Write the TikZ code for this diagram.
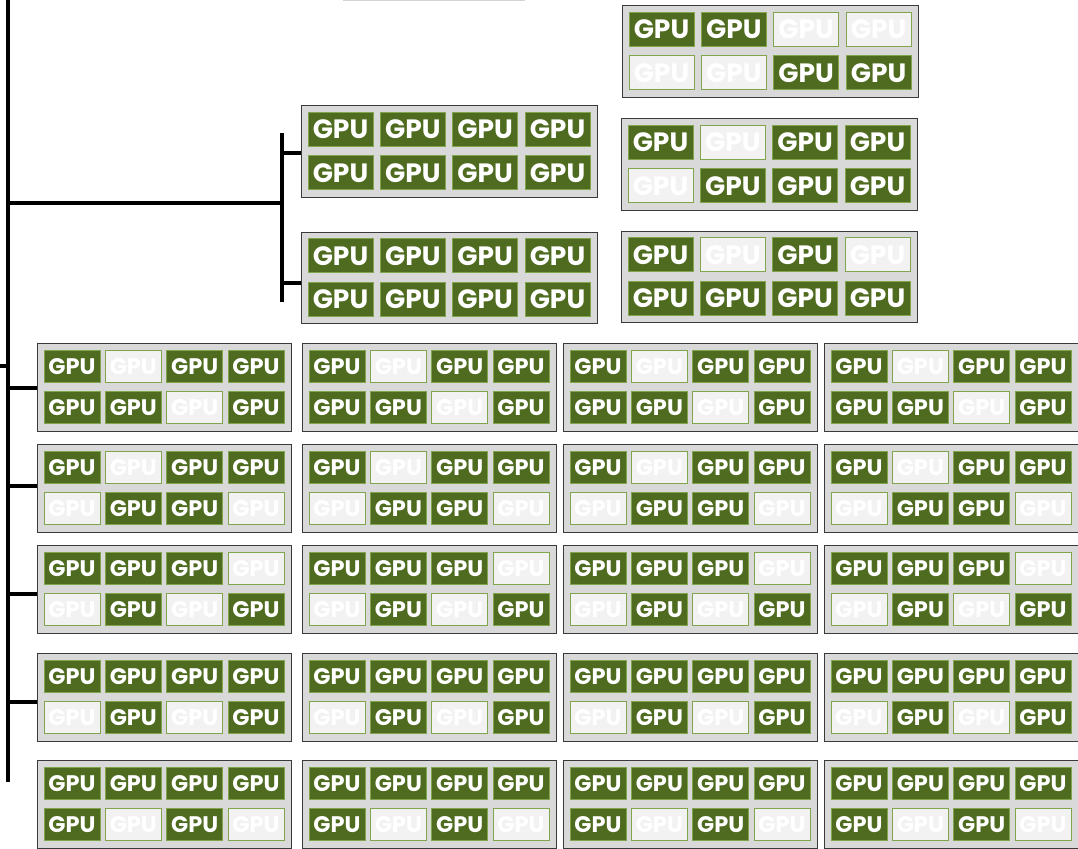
\documentclass[tikz,border=0pt]{standalone}
\usepackage{fontspec}
\setmainfont{Poppins}
\definecolor{gpugreen}{HTML}{4E6B1F}
\definecolor{gpuedge}{HTML}{80A54C}
\definecolor{offfill}{HTML}{F2F2F2}
\definecolor{boxfill}{HTML}{D9D9D9}
\definecolor{boxedge}{HTML}{3A3A3A}
\definecolor{topline}{HTML}{D4D4D4}
\tikzset{
  srvbox/.style={draw=boxedge, fill=boxfill, line width=1.3pt, inner sep=0pt},
  gpuon/.style={fill=gpugreen},
  gpuoff/.style={fill=offfill},
  tile/.code={\ifnum#1=1\relax\pgfkeysalso{gpuon}\else\pgfkeysalso{gpuoff}\fi},
  tilebase/.style={draw=gpuedge, line width=1pt, inner sep=0pt, text=white, text depth=0pt},
  link/.style={line width=4pt, black}
}
% name, x, y, w, h, tile w, tile h, pattern, font size
\newcommand\srv[9]{%
  \node[srvbox, minimum width=#4pt, minimum height=#5pt, anchor=north west] (#1) at (#2,#3) {};
  \pgfmathsetmacro\capht{0.7*#9}
  \foreach \s [count=\i from 0] in {#8} {
    \pgfmathtruncatemacro\cc{mod(\i,4)}
    \pgfmathtruncatemacro\rr{int(\i/4)}
    \pgfmathsetmacro\cx{#2+7+#6/2+\cc*(#4-14-#6)/3}
    \pgfmathsetmacro\cy{#3+#5/2+(\rr-0.5)*(#7+9.5)}
    \node[tilebase, tile=\s, minimum width=#6pt, minimum height=#7pt, text height=\capht pt,
          font=\fontsize{#9}{#9}\selectfont\bfseries] (#1-\i) at (\cx,\cy) {GPU};
  }%
}
\begin{document}
\begin{tikzpicture}[x=1pt, y=-1pt]
\path[use as bounding box] (0,0) rectangle (1078,848);

% partial shape at the top edge
\draw[topline, line width=2pt] (343,0.5) -- (525,0.5);

% top-right column
\srv{A}{622}{5}{296}{92}{65}{34}{1,1,0,0,0,0,1,1}{26.5}
\srv{B}{621}{118}{296}{92}{65}{34}{1,0,1,1,0,1,1,1}{26.5}
\srv{C}{621}{231}{296}{91}{65}{34}{1,0,1,0,1,1,1,1}{26.5}
% middle pair
\srv{D}{301}{105}{296}{92}{65}{34}{1,1,1,1,1,1,1,1}{26.5}
\srv{E}{301}{232}{296}{91}{65}{34}{1,1,1,1,1,1,1,1}{26.5}

% grid of servers
\foreach \cxx [count=\c] in {37,302,563,824} {
  \srv{r1c\c}{\cxx}{343}{254}{88}{56}{32}{1,0,1,1,1,1,0,1}{22.5}
  \srv{r2c\c}{\cxx}{444}{254}{88}{56}{32}{1,0,1,1,0,1,1,0}{22.5}
  \srv{r3c\c}{\cxx}{545}{254}{88}{56}{32}{1,1,1,0,0,1,0,1}{22.5}
  \srv{r4c\c}{\cxx}{653}{254}{88}{56}{32}{1,1,1,1,0,1,0,1}{22.5}
  \srv{r5c\c}{\cxx}{760}{254}{88}{56}{32}{1,1,1,1,1,0,1,0}{22.5}
}

% tree connectors
\coordinate (trunkTop) at (8,0);
\coordinate (trunkBot) at (8,782);
\coordinate (stub) at (0,366);
\coordinate (midJoin) at (282,203);
\coordinate (subTop) at (282,133);
\coordinate (subBot) at (282,302);
\draw[link] (trunkTop) -- (trunkBot);
\draw[link] (stub) -- (stub -| trunkTop);
\draw[link] (trunkTop |- midJoin) -- (midJoin);
\draw[link] (subTop) -- (subBot);
\draw[link] (subTop |- 0,153) -- (D.west |- 0,153);
\draw[link] (subTop |- 0,283) -- (E.west |- 0,283);
\draw[link] (trunkTop |- 0,388) -- (r1c1.west |- 0,388);
\draw[link] (trunkTop |- 0,486) -- (r2c1.west |- 0,486);
\draw[link] (trunkTop |- 0,594) -- (r3c1.west |- 0,594);
\draw[link] (trunkTop |- 0,702) -- (r4c1.west |- 0,702);
\end{tikzpicture}
\end{document}
